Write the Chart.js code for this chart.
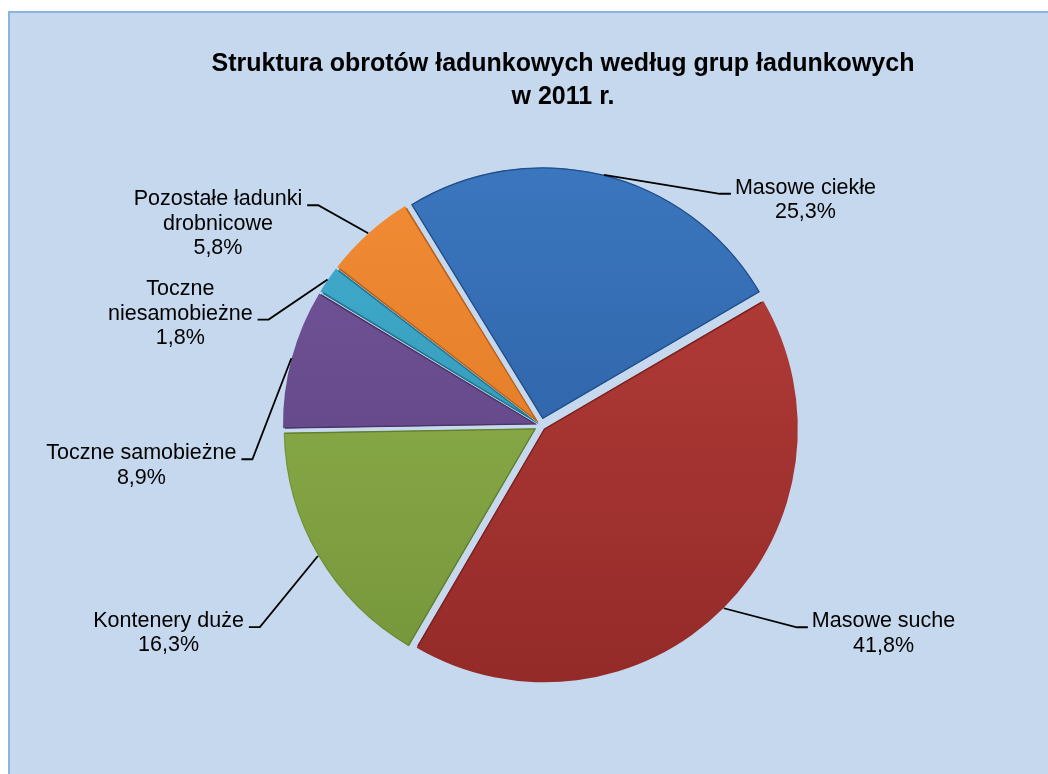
<!DOCTYPE html>
<html>
<head>
<meta charset="utf-8">
<script src="https://cdn.jsdelivr.net/npm/chart.js@4"></script>
<style>
  body { margin: 0; background: #fff; }
  canvas { display: block; }
</style>
</head>
<body>
<canvas id="chart" width="1048" height="774"></canvas>
<script>
const categories = ["Masowe ciekłe", "Masowe suche", "Kontenery duże", "Toczne samobieżne", "Toczne niesamobieżne", "Pozostałe ładunki drobnicowe"];
const labelLines = [["Masowe ciekłe"], ["Masowe suche"], ["Kontenery duże"], ["Toczne samobieżne"], ["Toczne", "niesamobieżne"], ["Pozostałe ładunki", "drobnicowe"]];
const shares = [25.3, 41.8, 16.3, 8.9, 1.8, 5.8];
const titleLines = ["Struktura obrotów ładunkowych według grup ładunkowych", "w 2011 r."];

// top / bottom colours of each slice
const topColors = ["#3b77bf", "#b83f3b", "#97b850", "#74579c", "#44b0d2", "#f28c35"];
const bottomColors = ["#28589a", "#932a28", "#74943a", "#5a3e7b", "#2a88a4", "#d8721f"];
const edgeColors = ["#234f8a", "#7e2220", "#627f2f", "#4b3367", "#23768f", "#b9611a"];

// leader elbow offset from slice edge, side, which text line the stub meets
const leaders = [
  { dx: 116, dy: 19, side: 1, line: 0 },
  { dx: 73, dy: 19, side: 1, line: 0 },
  { dx: -58, dy: 71, side: -1, line: 0 },
  { dx: -39, dy: 101, side: -1, line: 0 },
  { dx: -59, dy: 40, side: -1, line: 1 },
  { dx: -50, dy: -28, side: -1, line: 0 }
];

const total = shares.reduce((a, b) => a + b, 0);
const fmt = v => v.toFixed(1).replace(".", ",") + "%";
const explode = 7;

function sliceOffset(ctx) {
  const circ = shares[ctx.dataIndex] / total * Math.PI * 2;
  const fix = 1 - Math.sin(Math.min(Math.PI, circ));
  return explode * 4 / (1 + fix);
}

function sliceColor(ctx) {
  const area = ctx.chart.chartArea;
  const i = ctx.dataIndex;
  if (!area) return topColors[i];
  const g = ctx.chart.ctx.createLinearGradient(0, area.top, 0, area.bottom);
  g.addColorStop(0, topColors[i]);
  g.addColorStop(1, bottomColors[i]);
  return g;
}

const backdrop = {
  id: "backdrop",
  beforeDraw(chart) {
    const c = chart.ctx;
    c.save();
    c.fillStyle = "#ffffff";
    c.fillRect(0, 0, chart.width, chart.height);
    c.fillStyle = "#c5d8ee";
    c.fillRect(8, 11, chart.width, chart.height);
    c.strokeStyle = "#8db3e2";
    c.lineWidth = 2;
    c.strokeRect(9, 12, chart.width + 10, chart.height + 10);
    c.fillStyle = "#000";
    c.font = "bold 25px 'Liberation Sans', Arial, sans-serif";
    c.textAlign = "center";
    c.textBaseline = "middle";
    titleLines.forEach((t, k) => c.fillText(t, 563, 64 + k * 33));
    c.restore();
  }
};

const leaderLabels = {
  id: "leaderLabels",
  afterDatasetsDraw(chart) {
    const c = chart.ctx;
    const meta = chart.getDatasetMeta(0);
    c.save();
    c.font = "21.5px 'Liberation Sans', Arial, sans-serif";
    c.textBaseline = "middle";
    c.textAlign = "center";
    c.fillStyle = "#000";
    c.strokeStyle = "#000";
    c.lineWidth = 1.8;
    meta.data.forEach((arc, i) => {
      const p = arc.getProps(["x", "y", "startAngle", "endAngle", "outerRadius"], true);
      const mid = (p.startAngle + p.endAngle) / 2;
      const r = p.outerRadius + explode;
      const x0 = p.x + Math.cos(mid) * r;
      const y0 = p.y + Math.sin(mid) * r;
      const L = leaders[i];
      const ex = x0 + L.dx, ey = y0 + L.dy;
      const sx = ex + L.side * 11;
      c.beginPath();
      c.moveTo(x0, y0);
      c.lineTo(ex, ey);
      c.lineTo(sx, ey);
      c.stroke();
      const lines = labelLines[i].concat([fmt(shares[i])]);
      const w = Math.max(...lines.map(t => c.measureText(t).width));
      const cx = L.side > 0 ? sx + 4 + w / 2 : sx - 5 - w / 2;
      const firstY = ey - 6 - L.line * 24.5;
      lines.forEach((t, k) => c.fillText(t, cx, firstY + k * 24.5));
    });
    c.restore();
  }
};

new Chart(document.getElementById("chart").getContext("2d"), {
  type: "pie",
  data: {
    labels: categories,
    datasets: [{
      data: shares,
      backgroundColor: sliceColor,
      borderColor: edgeColors,
      borderWidth: 1,
      borderAlign: "inner",
      offset: sliceOffset,
      hoverOffset: 0
    }]
  },
  options: {
    responsive: false,
    animation: false,
    rotation: -31.5,
    layout: { padding: { top: 160, bottom: 83, left: 100, right: 66 } },
    plugins: {
      legend: { display: false },
      tooltip: { enabled: false },
      title: { display: false }
    }
  },
  plugins: [backdrop, leaderLabels]
});
</script>
</body>
</html>
